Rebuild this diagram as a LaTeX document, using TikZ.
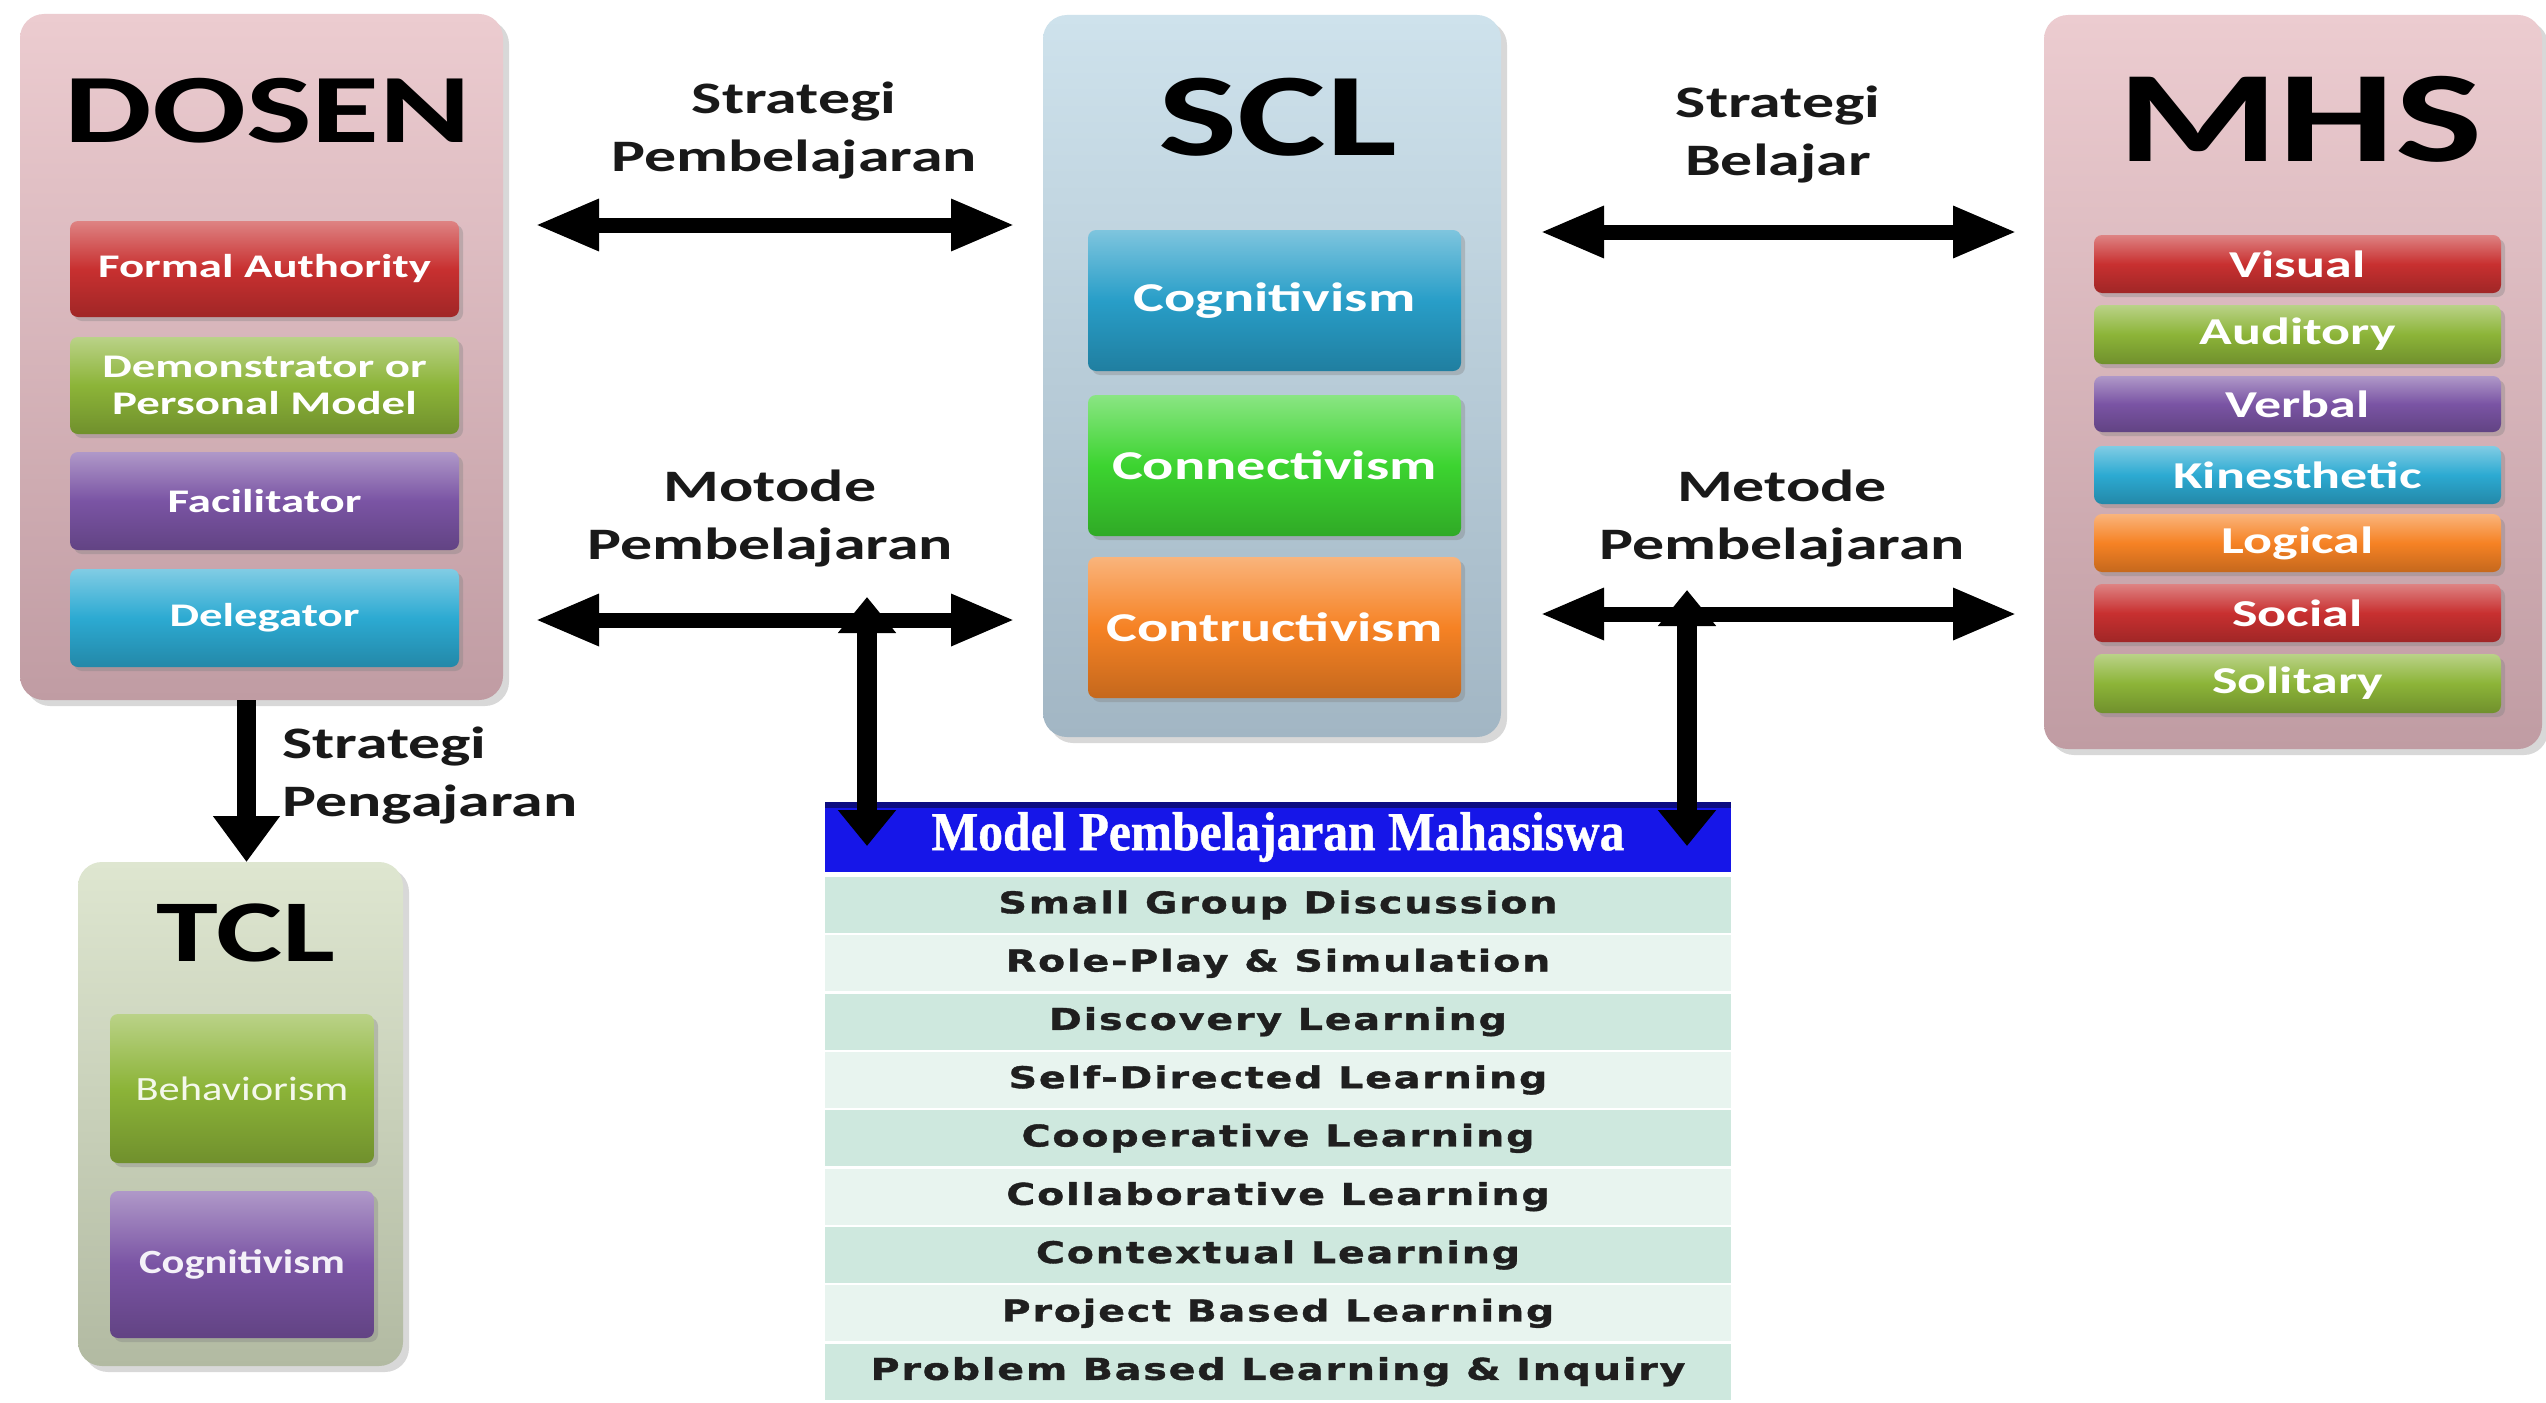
\documentclass[tikz,border=0pt]{standalone}
\usepackage{fontspec}
\usetikzlibrary{arrows.meta,shadows,calc}
\newfontfamily\calfont[FakeStretch=1.42]{Carlito}
\newfontfamily\tclfont[FakeStretch=1.25]{Carlito}
\newfontfamily\rowfont[FakeStretch=1.32,LetterSpace=6,FakeBold=1.2]{DejaVu Sans}
\newfontfamily\hdrfont[FakeStretch=0.9,FakeBold=0.8]{Liberation Serif}
\newcommand{\fsz}[2]{\fontsize{#1}{#2}\selectfont}
\newcommand{\bx}[6]{\node[#6, minimum width={(#4-#2)*0.5pt}, minimum height={(#5-#3)*0.5pt}] (#1) at ({(#2+#4)/2},{(#3+#5)/2})}
\definecolor{pnkT}{RGB}{236,204,208}
\definecolor{pnkB}{RGB}{192,156,163}
\definecolor{sclT}{RGB}{206,226,236}
\definecolor{sclB}{RGB}{162,182,196}
\definecolor{tclT}{RGB}{222,230,208}
\definecolor{tclB}{RGB}{178,186,162}
\definecolor{cRed}{RGB}{200,48,48}
\definecolor{cOlive}{RGB}{140,180,56}
\definecolor{cPurp}{RGB}{122,84,164}
\definecolor{cCyan}{RGB}{44,170,210}
\definecolor{cOrg}{RGB}{246,130,36}
\definecolor{cLime}{RGB}{60,212,48}
\definecolor{cBlue}{RGB}{40,158,200}
\definecolor{hdrBlue}{RGB}{22,22,232}
\definecolor{rowD}{RGB}{206,232,222}
\definecolor{rowL}{RGB}{232,244,239}
\begin{document}
\begin{tikzpicture}[x=0.5pt,y=-0.5pt,
  pnl/.style n args={2}{rounded corners=12pt, inner sep=0pt, outer sep=0pt, top color=#1, bottom color=#2, drop shadow={opacity=0.3,shadow xshift=3pt,shadow yshift=-3pt}},
  itm/.style={rounded corners=4pt, inner sep=0pt, outer sep=0pt, text=white, align=center, top color=#1!60!white, bottom color=#1!80!black, middle color=#1, drop shadow={opacity=0.35,shadow xshift=2pt,shadow yshift=-2pt}},
  ttl/.style={inner sep=0pt, text=black},
  lbl/.style={inner sep=0pt, align=center, text=black!90, font=\calfont\bfseries\fsz{22.5}{29}},
  rw/.style={inner sep=0pt, outer sep=0pt, fill=#1, text=black!88, font=\rowfont\bfseries\fsz{15}{15}},
  harr/.style={line width=7.5pt, arrows={Triangle[length=32pt,width=24pt]-Triangle[length=32pt,width=24pt]}},
  jarr/.style={line width=10pt, arrows={Triangle[length=18pt,width=28pt]-Triangle[length=18pt,width=28pt]}},
  darr/.style={line width=9.5pt, arrows={-Triangle[length=23pt,width=32pt]}}
]
\useasboundingbox (0,0) rectangle (2546,1402);
\fill[white] (0,0) rectangle (2546,1402);

% panels
\bx{dosen}{20}{14}{503}{700}{pnl={pnkT}{pnkB}}{};
\bx{scl}{1043}{15}{1501}{737}{pnl={sclT}{sclB}}{};
\bx{mhs}{2044}{15}{2542}{749}{pnl={pnkT}{pnkB}}{};
\bx{tcl}{78}{862}{403}{1366}{pnl={tclT}{tclB}}{};

% titles
\node[ttl, font=\calfont\bfseries\fsz{49}{49}] (tdosen) at (268,111) {DOSEN};
\node[ttl, font=\calfont\bfseries\fsz{59}{59}] (tscl) at (1278,117) {SCL};
\node[ttl, font=\calfont\bfseries\fsz{65}{65}] (tmhs) at (2300,119) {MHS};
\node[ttl, font=\calfont\bfseries\fsz{44}{44}] (ttcl) at (246,933) {TCL};

% DOSEN items
\bx{fa}{70}{221}{459}{317}{itm=cRed, font=\calfont\bfseries\fsz{16.5}{18.5}}{Formal Authority};
\bx{dm}{70}{337}{459}{434}{itm=cOlive, font=\calfont\bfseries\fsz{16.5}{18.5}}{Demonstrator or\\Personal Model};
\bx{fc}{70}{452}{459}{550}{itm=cPurp, font=\calfont\bfseries\fsz{16.5}{18.5}}{Facilitator};
\bx{dl}{70}{569}{459}{667}{itm=cCyan, font=\calfont\bfseries\fsz{16.5}{18.5}}{Delegator};

% SCL items
\bx{cg}{1088}{230}{1461}{371}{itm=cBlue, font=\calfont\bfseries\fsz{20.5}{22}}{Cognitivism};
\bx{cn}{1088}{395}{1461}{536}{itm=cLime, font=\calfont\bfseries\fsz{20.5}{22}}{Connectivism};
\bx{ct}{1088}{557}{1461}{698}{itm=cOrg, font=\calfont\bfseries\fsz{20.5}{22}}{Contructivism};

% MHS items
\bx{vi}{2094}{235}{2501}{293}{itm=cRed, font=\calfont\bfseries\fsz{19}{20}}{Visual};
\bx{au}{2094}{305}{2501}{364}{itm=cOlive, font=\calfont\bfseries\fsz{19}{20}}{Auditory};
\bx{vb}{2094}{376}{2501}{432}{itm=cPurp, font=\calfont\bfseries\fsz{19}{20}}{Verbal};
\bx{ki}{2094}{446}{2501}{504}{itm=cCyan, font=\calfont\bfseries\fsz{19}{20}}{Kinesthetic};
\bx{lo}{2094}{514}{2501}{572}{itm=cOrg, font=\calfont\bfseries\fsz{19}{20}}{Logical};
\bx{so}{2094}{584}{2501}{642}{itm=cRed, font=\calfont\bfseries\fsz{19}{20}}{Social};
\bx{sl}{2094}{654}{2501}{713}{itm=cOlive, font=\calfont\bfseries\fsz{19}{20}}{Solitary};

% TCL items
\bx{be}{110}{1014}{374}{1163}{itm=cOlive, text=white!90!cOlive, font=\tclfont\fsz{17}{18}}{Behaviorism};
\bx{co}{110}{1191}{374}{1338}{itm=cPurp, text=white!92!cPurp, font=\tclfont\bfseries\fsz{17}{18}}{Cognitivism};

% table
\bx{hdr}{825}{802}{1731}{872}{fill=hdrBlue, inner sep=0pt, outer sep=0pt, text=white, font=\hdrfont\bfseries\fsz{27.5}{27.5},
  path picture={\fill[hdrBlue!55!black] (path picture bounding box.north west) rectangle ([yshift=-3pt]path picture bounding box.north east);}}{Model Pembelajaran Mahasiswa};
\foreach \t [count=\i] in {Small Group Discussion, Role-Play \& Simulation, Discovery Learning, Self-Directed Learning, Cooperative Learning, Collaborative Learning, Contextual Learning, Project Based Learning, Problem Based Learning \& Inquiry}{
  \pgfmathsetmacro{\ya}{877+(\i-1)*58.33}
  \pgfmathsetmacro{\yb}{\ya+56}
  \ifodd\i\relax \def\rc{rowD}\else \def\rc{rowL}\fi
  \bx{r\i}{825}{\ya}{1731}{\yb}{rw=\rc}{\t};
}

% labels
\node[lbl] (l1) at (794,131) {Strategi\\Pembelajaran};
\node[lbl] (l2) at (770,519) {Motode\\Pembelajaran};
\node[lbl] (l3) at (1778,135) {Strategi\\Belajar};
\node[lbl] (l4) at (1782,519) {Metode\\Pembelajaran};
\node[lbl, align=left, anchor=west] (l5) at (282,776) {Strategi\\Pengajaran};

% arrows
\coordinate (yA) at (0,225);
\coordinate (yB) at (0,620);
\coordinate (yC) at (0,232);
\coordinate (yD) at (0,614);
\draw[harr, shorten <=16pt, shorten >=14pt] (dosen.east |- yA) -- (scl.west |- yA);
\draw[harr, shorten <=16pt, shorten >=14pt] (dosen.east |- yB) -- (scl.west |- yB);
\draw[harr, shorten <=19.5pt, shorten >=13.5pt] (scl.east |- yC) -- (mhs.west |- yC);
\draw[harr, shorten <=19.5pt, shorten >=13.5pt] (scl.east |- yD) -- (mhs.west |- yD);
\draw[darr] ($(tcl.north |- dosen.south)+(6,0)$) -- ($(tcl.north)+(6,0)$);
\coordinate (jL) at (867,597);
\coordinate (jR) at (1687,590);
\draw[jarr] (jL) -- ($(jL |- hdr.north)+(0,44)$);
\draw[jarr] (jR) -- ($(jR |- hdr.north)+(0,44)$);
\end{tikzpicture}
\end{document}
